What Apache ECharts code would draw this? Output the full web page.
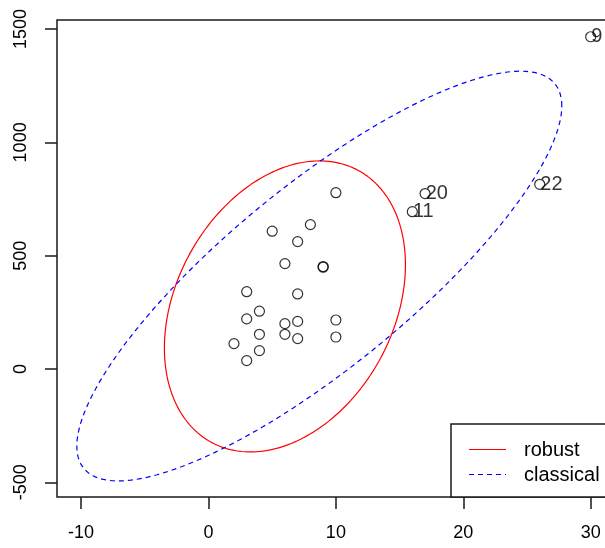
<!DOCTYPE html>
<html>
<head>
<meta charset="utf-8">
<script src="https://cdn.jsdelivr.net/npm/echarts@6/dist/echarts.min.js"></script>
<style>
  html, body { margin: 0; padding: 0; background: #fff; }
  #chart { width: 605px; height: 548px; }
</style>
</head>
<body>
<div id="chart"></div>
<script>
// Observations (x, y)
const pointX = [10, 8, 5, 7, 6, 9, 9, 3, 7, 4, 3, 6, 7, 10, 4, 6, 7, 10, 2, 4, 3];
const pointY = [778, 637, 608, 562, 465, 449, 452, 341, 331, 255, 221, 200, 210, 216, 153, 153, 134, 141, 112, 81, 37];

// Flagged observations, labelled by index
const flagX = [30, 26, 17, 16];
const flagY = [1466, 815, 774, 694];
const flagId = ['9', '22', '20', '11'];

// Location / scatter estimates defining the 97.5% tolerance ellipses
const robustCenter = [6.0, 276];
const robustCov = [[12.13, 236.0], [236.0, 55880]];
const classicalCenter = [8.7, 410];
const classicalCov = [[49.1, 1936], [1936, 110780]];
const chi2Quantile = 7.378; // qchisq(0.975, 2)

// Axis ticks
const xTicks = [-10, 0, 10, 20, 30];
const yTicks = [-500, 0, 500, 1000, 1500];

function ellipse(center, cov, n) {
  const r = Math.sqrt(chi2Quantile);
  const l11 = Math.sqrt(cov[0][0]);
  const l21 = cov[1][0] / l11;
  const l22 = Math.sqrt(cov[1][1] - l21 * l21);
  const out = [];
  for (let i = 0; i <= n; i++) {
    const t = (2 * Math.PI * i) / n;
    const u = Math.cos(t), v = Math.sin(t);
    out.push([center[0] + r * l11 * u, center[1] + r * (l21 * u + l22 * v)]);
  }
  return out;
}

const points = pointX.map((x, i) => [x, pointY[i]]);
const flagged = flagX.map((x, i) => ({ value: [x, flagY[i]], name: flagId[i] }));

const FONT = 'Liberation Sans, Arial, Helvetica, sans-serif';
const chart = echarts.init(document.getElementById('chart'), null, { renderer: 'canvas' });

// plot region runs past the right edge of the canvas
chart.setOption({
  animation: false,
  backgroundColor: '#fff',
  grid: {
    left: 57, top: 20, width: 637, height: 477,
    outerBoundsMode: 'none', containLabel: false,
    show: true, borderColor: '#1a1a1a', borderWidth: 1.5, backgroundColor: 'transparent'
  },
  xAxis: {
    type: 'value', min: -11.89, max: 38.11,
    axisLine: { show: false, onZero: false },
    axisTick: { show: true, customValues: xTicks, length: 12, lineStyle: { color: '#1a1a1a', width: 1.5 } },
    axisLabel: { customValues: xTicks, margin: 27, color: '#000', fontSize: 18, fontFamily: FONT,
                 formatter: v => String(v) },
    splitLine: { show: false }
  },
  yAxis: {
    type: 'value', min: -565, max: 1540,
    axisLine: { show: false, onZero: false },
    axisTick: { show: true, customValues: yTicks, length: 12, lineStyle: { color: '#1a1a1a', width: 1.5 } },
    axisLabel: { customValues: yTicks, margin: 27, rotate: 90, color: '#000', fontSize: 18, fontFamily: FONT,
                 formatter: v => String(v) },
    splitLine: { show: false }
  },
  series: [
    {
      name: 'robust', type: 'line', data: ellipse(robustCenter, robustCov, 240),
      showSymbol: false, symbol: 'none', smooth: false,
      lineStyle: { color: '#ff0000', width: 1.2 }, z: 2
    },
    {
      name: 'classical', type: 'line', data: ellipse(classicalCenter, classicalCov, 240),
      showSymbol: false, symbol: 'none', smooth: false,
      lineStyle: { color: '#0000ff', width: 1.2, type: [5, 4] }, z: 2
    },
    {
      type: 'scatter', data: points, symbol: 'circle', symbolSize: 10,
      itemStyle: { color: 'rgba(0,0,0,0)', borderColor: '#000', borderWidth: 1.2 }, z: 3
    },
    {
      type: 'scatter', data: flagged, symbol: 'circle', symbolSize: 10,
      itemStyle: { color: 'rgba(0,0,0,0)', borderColor: '#000', borderWidth: 1.2 }, z: 3,
      label: {
        show: true, position: 'right', distance: -5, formatter: '{b}',
        color: '#000', fontSize: 20, fontFamily: FONT, padding: [5, 0, 0, 0]
      }
    }
  ],
  graphic: [
    {
      type: 'group', z: 100,
      children: [
        { type: 'rect', shape: { x: 451, y: 424, width: 200, height: 73 },
          style: { fill: '#fff', stroke: '#1a1a1a', lineWidth: 1.5 } },
        { type: 'line', shape: { x1: 469, y1: 449.5, x2: 506, y2: 449.5 },
          style: { stroke: '#ff0000', lineWidth: 1.2 } },
        { type: 'line', shape: { x1: 469, y1: 474.5, x2: 506, y2: 474.5 },
          style: { stroke: '#0000ff', lineWidth: 1.2, lineDash: [5, 4] } },
        { type: 'text', x: 524, y: 450,
          style: { text: 'robust', fill: '#000', fontSize: 20, fontFamily: FONT, verticalAlign: 'middle' } },
        { type: 'text', x: 524, y: 475,
          style: { text: 'classical', fill: '#000', fontSize: 20, fontFamily: FONT, verticalAlign: 'middle' } }
      ]
    }
  ]
});
</script>
</body>
</html>
